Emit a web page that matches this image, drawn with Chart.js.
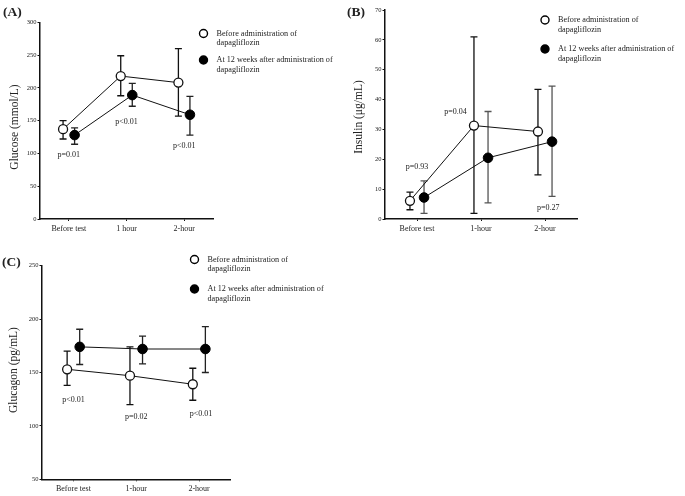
<!DOCTYPE html>
<html>
<head>
<meta charset="utf-8">
<script src="https://cdn.jsdelivr.net/npm/chart.js@4.4.1/dist/chart.umd.min.js"></script>
<style>
  html, body { margin: 0; padding: 0; background: #fff; }
  #wrap { position: relative; width: 685px; height: 496px; }
  canvas { position: absolute; left: 0; top: 0; }
</style>
</head>
<body>
<div id="wrap">
  <canvas id="glucose" width="685" height="496"></canvas>
  <canvas id="insulin" width="685" height="496"></canvas>
  <canvas id="glucagon" width="685" height="496"></canvas>
</div>
<script>
// categories
const timesA = ["Before test", "1 hour", "2-hour"];
const timesBC = ["Before test", "1-hour", "2-hour"];

// (A) glucose
const glucoseBefore = [137, 218, 208];
const glucoseBeforeLow = [122, 188, 157];
const glucoseBeforeHigh = [150, 249, 260];
const glucoseAfter = [128, 189, 159];
const glucoseAfterLow = [114, 172, 128];
const glucoseAfterHigh = [139, 207, 187];
const glucoseP = ["p=0.01", "p<0.01", "p<0.01"];

// (B) insulin
const insulinBefore = [6.1, 31.3, 29.3];
const insulinBeforeLow = [3.1, 1.9, 14.8];
const insulinBeforeHigh = [9.0, 61, 43.4];
const insulinAfter = [7.2, 20.5, 25.9];
const insulinAfterLow = [1.9, 5.4, 7.6];
const insulinAfterHigh = [12.8, 36, 44.5];
const insulinP = ["p=0.93", "p=0.04", "p=0.27"];

// (C) glucagon
const glucagonBefore = [153, 147, 139];
const glucagonBeforeLow = [138, 120, 124];
const glucagonBeforeHigh = [170, 174, 154];
const glucagonAfter = [174, 172, 172];
const glucagonAfterLow = [157.5, 158, 150];
const glucagonAfterHigh = [190.5, 184, 193];
const glucagonP = ["p<0.01", "p=0.02", "p<0.01"];

const legendBefore = ["Before administration of", "dapagliflozin"];
const legendAfter = ["At 12 weeks after administration of", "dapagliflozin"];

const SERIF = "'Liberation Serif', 'Times New Roman', serif";
Chart.defaults.font.family = SERIF;
Chart.defaults.color = "#222";

// error bars + texts drawn with the chart's own scales
const panelPlugin = {
  id: "panel",
  beforeDatasetsDraw(chart) {
    const ctx = chart.ctx;
    const xs = chart.scales.x, ys = chart.scales.y;
    chart.data.datasets.forEach((ds) => {
      ctx.save();
      ctx.strokeStyle = ds.barColor;
      ctx.lineWidth = 1.3;
      ds.data.forEach((pt, i) => {
        const x = xs.getPixelForValue(pt.x);
        const y1 = ys.getPixelForValue(ds.errLow[i]);
        const y2 = ys.getPixelForValue(ds.errHigh[i]);
        ctx.beginPath();
        ctx.moveTo(x, y1); ctx.lineTo(x, y2);
        ctx.moveTo(x - 3.5, y1); ctx.lineTo(x + 3.5, y1);
        ctx.moveTo(x - 3.5, y2); ctx.lineTo(x + 3.5, y2);
        ctx.stroke();
      });
      ctx.restore();
    });
  },
  afterDraw(chart, args, o) {
    const ctx = chart.ctx;
    const xs = chart.scales.x, ys = chart.scales.y;
    ctx.save();
    ctx.fillStyle = "#222";
    // p values
    ctx.font = "8px " + SERIF;
    ctx.textAlign = "center";
    ctx.textBaseline = "middle";
    o.pTexts.forEach((t, i) => {
      ctx.fillText(t, xs.getPixelForValue(o.pAt[i][0]), ys.getPixelForValue(o.pAt[i][1]));
    });
    // panel tag
    ctx.font = "bold 13.5px " + SERIF;
    ctx.textAlign = "left";
    ctx.fillText(o.tag, o.tagPos[0], o.tagPos[1]);
    // y title
    ctx.save();
    ctx.translate(o.titlePos[0], o.titlePos[1]);
    ctx.rotate(-Math.PI / 2);
    ctx.font = "11.5px " + SERIF;
    ctx.textAlign = "center";
    ctx.fillText(o.title, 0, 0);
    ctx.restore();
    // legend
    const lg = o.legend;
    [[legendBefore, "#fff", lg.y1], [legendAfter, "#000", lg.y2]].forEach(([lines, fill, y]) => {
      ctx.beginPath();
      ctx.arc(lg.x, y, 4, 0, Math.PI * 2);
      ctx.fillStyle = fill;
      ctx.fill();
      ctx.lineWidth = 1.4;
      ctx.strokeStyle = "#000";
      ctx.stroke();
      ctx.fillStyle = "#222";
      ctx.font = "8.2px " + SERIF;
      ctx.textAlign = "left";
      lines.forEach((l, k) => ctx.fillText(l, lg.x + 13, y + k * 9.5));
    });
    ctx.restore();
  }
};

function makePanel(id, p) {
  const series = (vals, shift) => vals.map((v, i) => ({ x: i + shift, y: v }));
  new Chart(document.getElementById(id), {
    type: "line",
    data: {
      datasets: [
        {
          label: legendBefore.join(" "),
          data: series(p.before, -p.shift),
          errLow: p.beforeLow, errHigh: p.beforeHigh, barColor: "#111",
          borderColor: "#111", borderWidth: 1,
          pointRadius: 4.5, pointBackgroundColor: "#fff",
          pointBorderColor: "#111", pointBorderWidth: 1.3,
        },
        {
          label: legendAfter.join(" "),
          data: series(p.after, p.shift),
          errLow: p.afterLow, errHigh: p.afterHigh, barColor: p.afterBar,
          borderColor: "#111", borderWidth: 1,
          pointRadius: 4.8, pointBackgroundColor: "#000",
          pointBorderColor: "#000", pointBorderWidth: 1,
        },
      ],
    },
    options: {
      responsive: false,
      animation: false,
      layout: {
        padding: {
          left: p.area[0] - 24,
          top: p.area[1],
          right: 685 - p.area[2],
          bottom: 496 - p.area[3] - 20,
        },
      },
      plugins: {
        legend: { display: false },
        tooltip: { enabled: false },
        panel: p.deco,
      },
      scales: {
        x: {
          type: "linear",
          min: -0.5,
          max: 2.5,
          afterBuildTicks: (s) => { s.ticks = [0, 1, 2].map((v) => ({ value: v })); },
          afterFit: (s) => { s.height = 20; },
          ticks: {
            callback: (v) => p.cats[v],
            font: { size: 8 },
            color: "#222",
            padding: 3,
            maxRotation: 0,
            autoSkip: false,
          },
          grid: { drawOnChartArea: false, tickLength: 2, color: "#111", lineWidth: 1 },
          border: { color: "#111", width: 1.5 },
        },
        y: {
          min: p.yMin,
          max: p.yMax,
          afterFit: (s) => { s.width = 24; },
          ticks: { stepSize: p.step, font: { size: 6.5 }, color: "#222", padding: 1 },
          grid: { drawOnChartArea: false, tickLength: 2.5, color: "#111", lineWidth: 1 },
          border: { color: "#111", width: 1.5 },
        },
      },
    },
    plugins: [panelPlugin],
  });
}

makePanel("glucose", {
  cats: timesA, shift: 0.1, afterBar: "#222",
  before: glucoseBefore, beforeLow: glucoseBeforeLow, beforeHigh: glucoseBeforeHigh,
  after: glucoseAfter, afterLow: glucoseAfterLow, afterHigh: glucoseAfterHigh,
  yMin: 0, yMax: 300, step: 50,
  area: [40, 22.3, 213, 219],
  deco: {
    pTexts: glucoseP, pAt: [[0, 98], [1, 148], [2, 112]],
    tag: "(A)", tagPos: [3, 13], title: "Glucose (mmol/L)", titlePos: [15, 127],
    legend: { x: 203.5, y1: 33.5, y2: 60 },
  },
});

makePanel("insulin", {
  cats: timesBC, shift: 0.11, afterBar: "#555",
  before: insulinBefore, beforeLow: insulinBeforeLow, beforeHigh: insulinBeforeHigh,
  after: insulinAfter, afterLow: insulinAfterLow, afterHigh: insulinAfterHigh,
  yMin: 0, yMax: 70, step: 10,
  area: [385, 10, 577, 219],
  deco: {
    pTexts: insulinP, pAt: [[0, 17.5], [0.6, 35.8], [2.05, 3.8]],
    tag: "(B)", tagPos: [347, 13], title: "Insulin (\u03bcg/mL)", titlePos: [359, 117],
    legend: { x: 545, y1: 20, y2: 49 },
  },
});

makePanel("glucagon", {
  cats: timesBC, shift: 0.1, afterBar: "#222",
  before: glucagonBefore, beforeLow: glucagonBeforeLow, beforeHigh: glucagonBeforeHigh,
  after: glucagonAfter, afterLow: glucagonAfterLow, afterHigh: glucagonAfterHigh,
  yMin: 50, yMax: 250, step: 50,
  area: [42, 265.7, 230.5, 479.3],
  deco: {
    pTexts: glucagonP, pAt: [[0, 124], [1, 108], [2.03, 111]],
    tag: "(C)", tagPos: [2, 263], title: "Glucagon (pg/mL)", titlePos: [14, 370],
    legend: { x: 194.5, y1: 259.5, y2: 289 },
  },
});
</script>
</body>
</html>
